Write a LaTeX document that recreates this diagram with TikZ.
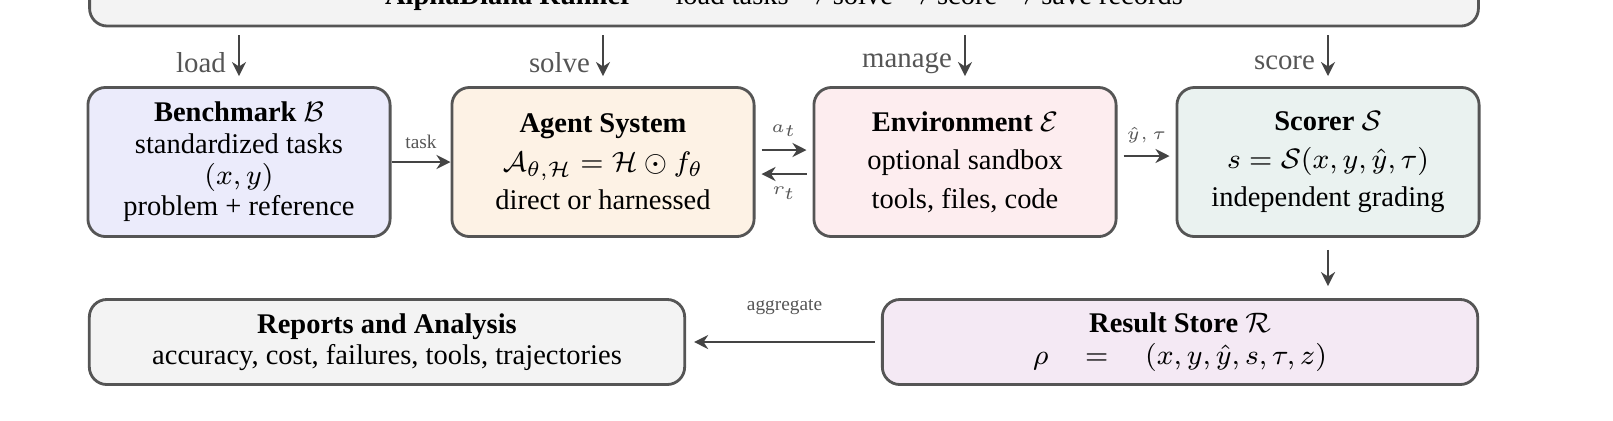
\documentclass[tikz,border=0pt]{standalone}
\usepackage{amsmath,amssymb}
\usepackage{fontspec}
\setmainfont{Liberation Serif}
\usepackage{tikz}
\usetikzlibrary{arrows.meta, positioning, calc}
\definecolor{edge}{HTML}{555555}
\definecolor{arr}{HTML}{444444}
\definecolor{bench}{HTML}{EBEBFB}
\definecolor{agent}{HTML}{FDF2E5}
\definecolor{envc}{HTML}{FDEDEF}
\definecolor{scor}{HTML}{EAF2F0}
\definecolor{rep}{HTML}{F3F3F3}
\definecolor{res}{HTML}{F4E9F4}
\tikzset{
  box/.style={rectangle, rounded corners=5pt, draw=edge, line width=0.8pt, align=center, minimum width=3.02cm, minimum height=1.49cm, font=\fontsize{8.1}{8.9}\selectfont},
  wide/.style={box, minimum width=5.95cm, minimum height=0.85cm},
  arrow/.style={line width=0.8pt, draw=arr, -{Stealth[length=4pt,width=4pt]}},
  lbl/.style={text=edge, font=\fontsize{8.2}{9}\selectfont},
  small/.style={text=edge, font=\fontsize{5.5}{6}\selectfont}
}
\begin{document}
\begin{tikzpicture}[x=0.01cm, y=-0.01cm]
\useasboundingbox (0,0) rectangle (1613,420);

% Runner
\node (runner) [box, fill=rep, minimum width=13.88cm, minimum height=0.56cm] at (784,-2) {\textbf{AlphaDiana Runner} --- load tasks $\rightarrow$ solve $\rightarrow$ score $\rightarrow$ save records};

% Main row
\node (bench) [box, fill=bench] at (239,162) {\textbf{Benchmark} $\mathcal{B}$\\standardized tasks\\$(x,y)$\\problem + reference};
\node (agent) [box, fill=agent] at (603,162) {\textbf{Agent System}\\[2pt]$\mathcal{A}_{\theta,\mathcal{H}}=\mathcal{H}\odot f_\theta$\\[2pt]direct or harnessed};
\node (env) [box, fill=envc] at (965,162) {\textbf{Environment} $\mathcal{E}$\\[2pt]optional sandbox\\[2pt]tools, files, code};
\node (scorer) [box, fill=scor] at (1328,162) {\textbf{Scorer} $\mathcal{S}$\\[2pt]$s=\mathcal{S}(x,y,\hat{y},\tau)$\\[2pt]independent grading};

% Bottom row
\node (reports) [wide, fill=rep] at (387,342) {\textbf{Reports and Analysis}\\accuracy, cost, failures, tools, trajectories};
\node (store) [wide, fill=res] at (1180,342) {\textbf{Result Store} $\mathcal{R}$\\$\rho\quad=\quad(x,y,\hat{y},s,\tau,z)$};

% Runner arrows
\foreach \n/\t in {bench/load, agent/solve, env/manage, scorer/score}
  \draw [arrow] (runner.south -| \n) ++(0,8) -- node[lbl, left, yshift=-2pt] {\t} ($(\n.north)+(0,-10)$);

% Flow
\draw [arrow] (bench) -- node[small, above] {task} (agent);
\draw [arrow] ($(agent.east)+(6,-12)$) -- node[small, above] {$a_t$} ($(env.west)+(-6,-12)$);
\draw [arrow] ($(env.west)+(-6,12)$) -- node[small, below] {$r_t$} ($(agent.east)+(6,12)$);
\draw [arrow] ($(env.east)+(6,-6)$) -- node[small, above] {$\hat{y},\tau$} ($(scorer.west)+(-6,-6)$);
\draw [arrow] ($(scorer.south)+(0,12)$) -- ($(store.north -| scorer)+(0,-12)$);
\draw [arrow] ($(store.west)+(-6,0)$) -- node[small, above, yshift=4pt] {aggregate} ($(reports.east)+(8,0)$);

\end{tikzpicture}
\end{document}
